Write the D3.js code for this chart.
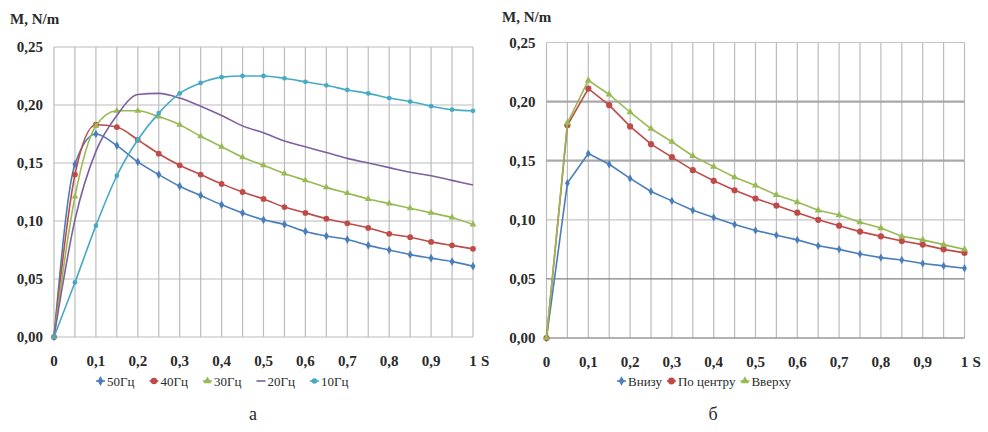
<!DOCTYPE html>
<html lang="ru">
<head>
<meta charset="utf-8">
<title>M(S)</title>
<script src="https://d3js.org/d3.v7.min.js"></script>
<style>
  body { margin: 0; background: #fff; }
  .grid { stroke: #bcbcbc; stroke-width: 1.2; }
</style>
</head>
<body>
<script>
// slip values, shared by both panels
var sVals = [0, 0.05, 0.1, 0.15, 0.2, 0.25, 0.3, 0.35, 0.4, 0.45, 0.5,
             0.55, 0.6, 0.65, 0.7, 0.75, 0.8, 0.85, 0.9, 0.95, 1];
var xTicks = [0, 0.1, 0.2, 0.3, 0.4, 0.5, 0.6, 0.7, 0.8, 0.9, 1];
var yTicks = [0, 0.05, 0.1, 0.15, 0.2, 0.25];

// panel a - frequencies
var freqNames = ["50Гц", "40Гц", "30Гц", "20Гц", "10Гц"];
var m50 = [0, 0.149, 0.175, 0.165, 0.151, 0.140, 0.130, 0.122, 0.114, 0.107, 0.101,
           0.097, 0.091, 0.087, 0.084, 0.079, 0.075, 0.071, 0.068, 0.065, 0.061];
var m40 = [0, 0.140, 0.183, 0.181, 0.170, 0.158, 0.148, 0.140, 0.132, 0.125, 0.119,
           0.112, 0.107, 0.102, 0.098, 0.094, 0.089, 0.086, 0.082, 0.079, 0.076];
var m30 = [0, 0.121, 0.182, 0.195, 0.195, 0.190, 0.183, 0.173, 0.164, 0.155, 0.148,
           0.141, 0.135, 0.129, 0.124, 0.119, 0.115, 0.111, 0.107, 0.103, 0.097];
var m20 = [0, 0.101, 0.160, 0.191, 0.209, 0.210, 0.206, 0.199, 0.191, 0.182, 0.176,
           0.169, 0.164, 0.159, 0.154, 0.150, 0.146, 0.142, 0.139, 0.135, 0.131];
var m10 = [0, 0.047, 0.096, 0.139, 0.170, 0.193, 0.210, 0.219, 0.224, 0.225, 0.225,
           0.223, 0.220, 0.217, 0.213, 0.210, 0.206, 0.203, 0.199, 0.196, 0.195];

// panel б - position
var posNames = ["Внизу", "По центру", "Вверху"];
var mLow = [0, 0.131, 0.156, 0.147, 0.135, 0.124, 0.116, 0.108, 0.102, 0.096, 0.091,
            0.087, 0.083, 0.078, 0.075, 0.071, 0.068, 0.066, 0.063, 0.061, 0.059];
var mMid = [0, 0.180, 0.211, 0.197, 0.179, 0.164, 0.153, 0.142, 0.133, 0.125, 0.118,
            0.112, 0.106, 0.100, 0.095, 0.090, 0.086, 0.082, 0.079, 0.075, 0.072];
var mTop = [0, 0.182, 0.218, 0.206, 0.191, 0.177, 0.166, 0.154, 0.145, 0.136, 0.129,
            0.121, 0.115, 0.108, 0.104, 0.098, 0.093, 0.086, 0.083, 0.079, 0.075];

var W = 988, H = 432;
var serif = "'Liberation Serif', 'DejaVu Serif', serif";
var svg = d3.select("body").append("svg").attr("width", W).attr("height", H)
  .attr("font-family", serif).attr("fill", "#2a2a2a");
svg.append("rect").attr("width", W).attr("height", H).attr("fill", "#fff");

var fmtX = function(d) { return String(d).replace(".", ","); };
var fmtY = function(d) { return d3.format(".2f")(d).replace(".", ","); };

function label(sel) {
  return sel.style("font-family", serif).style("font-size", "15px")
    .style("font-weight", "bold").attr("fill", "#2a2a2a");
}

function drawPanel(p) {
  var x = d3.scaleLinear().domain([0, 1]).range(p.xr);
  var y = d3.scaleLinear().domain([0, 0.25]).range(p.yr);
  var g = svg.append("g");

  // vertical grid every 0.05
  g.selectAll("line.v").data(sVals).enter().append("line")
    .attr("class", "grid")
    .attr("x1", function(d) { return x(d); }).attr("x2", function(d) { return x(d); })
    .attr("y1", y(0.25)).attr("y2", y(0));
  // horizontal grid
  g.selectAll("line.h").data(yTicks).enter().append("line")
    .attr("class", "grid")
    .attr("x1", x(0)).attr("x2", x(1))
    .attr("y1", function(d) { return y(d); }).attr("y2", function(d) { return y(d); })
    .style("stroke", function(d, i) { return p.hStroke ? p.hStroke[i] : null; })
    .style("stroke-width", function(d, i) { return p.hWidth ? p.hWidth[i] : null; });

  // axis labels
  label(g.selectAll("text.yl").data(yTicks).enter().append("text"))
    .attr("x", x(0) - 11).attr("y", function(d) { return y(d) + 5; })
    .attr("text-anchor", "end").text(fmtY);
  label(g.selectAll("text.xl").data(xTicks).enter().append("text"))
    .attr("x", function(d) { return x(d); }).attr("y", y(0) + 29)
    .attr("text-anchor", "middle").text(fmtX);
  label(g.append("text"))
    .attr("x", x(1) + 8).attr("y", y(0) + 29).text("S");
  label(g.append("text"))
    .attr("x", p.titleX).attr("y", p.titleY).text("M, N/m");

  var line = d3.line()
    .x(function(d, i) { return x(sVals[i]); })
    .y(function(d) { return y(d); })
    .curve(p.curve);

  p.series.forEach(function(s) {
    g.append("path").datum(s.values)
      .attr("fill", "none").attr("stroke", s.color).attr("stroke-width", 1.6)
      .attr("d", line);
    if (s.symbol) {
      g.selectAll(null).data(s.values).enter().append("path")
        .attr("transform", function(d, i) { return "translate(" + x(sVals[i]) + "," + y(d) + ")"; })
        .attr("d", d3.symbol().type(s.symbol).size(s.size))
        .attr("fill", s.color);
    }
  });

  // legend
  var lg = g.append("g").attr("transform", "translate(0," + p.legY + ")");
  var lx = p.legX;
  p.series.forEach(function(s, i) {
    var item = lg.append("g").attr("transform", "translate(" + lx + ",0)");
    item.append("line").attr("x1", 0).attr("x2", 9).attr("y1", 0).attr("y2", 0)
      .attr("stroke", s.color).attr("stroke-width", 1.6);
    if (s.symbol) {
      item.append("path").attr("transform", "translate(4.5,0)")
        .attr("d", d3.symbol().type(s.symbol).size(s.size + 6)).attr("fill", s.color);
    }
    var t = item.append("text").attr("x", 11).attr("y", 4.5)
      .style("font-family", serif).style("font-size", "13px").attr("fill", "#2a2a2a")
      .text(s.name);
    lx += 11 + t.node().getComputedTextLength() + p.legGap;
  });

  svg.append("text").attr("x", p.capX).attr("y", 420).attr("text-anchor", "middle")
    .style("font-family", serif).style("font-size", "18px").attr("fill", "#2a2a2a")
    .text(p.caption);
}

drawPanel({
  xr: [54, 473], yr: [337, 47],
  titleX: 10, titleY: 24,
  curve: d3.curveMonotoneX,
  legX: 96, legY: 381, legGap: 15,
  capX: 253, caption: "а",
  series: [
    { name: freqNames[0], values: m50, color: "#4a7ebb", symbol: d3.symbolDiamond, size: 22 },
    { name: freqNames[1], values: m40, color: "#be4b48", symbol: d3.symbolCircle, size: 26 },
    { name: freqNames[2], values: m30, color: "#98b954", symbol: d3.symbolTriangle, size: 20 },
    { name: freqNames[3], values: m20, color: "#7d60a0", symbol: null, size: 0 },
    { name: freqNames[4], values: m10, color: "#46aac5", symbol: d3.symbolCircle, size: 18 }
  ]
});

drawPanel({
  xr: [546.5, 964.5], yr: [338, 42.5],
  titleX: 502, titleY: 22,
  curve: d3.curveLinear,
  legX: 617, legY: 381, legGap: 5,
  capX: 713, caption: "б",
  hStroke: ["#9a9a9a", "#808080", "#c4c4c4", "#a8a8a8", "#a8a8a8", "#c4c4c4"],
  hWidth: [1.4, 1.2, 1.2, 2.2, 2.2, 1.2],
  series: [
    { name: posNames[0], values: mLow, color: "#4a7ebb", symbol: d3.symbolDiamond, size: 20 },
    { name: posNames[1], values: mMid, color: "#be4b48", symbol: d3.symbolCircle, size: 30 },
    { name: posNames[2], values: mTop, color: "#98b954", symbol: d3.symbolTriangle, size: 22 }
  ]
});
</script>
</body>
</html>
